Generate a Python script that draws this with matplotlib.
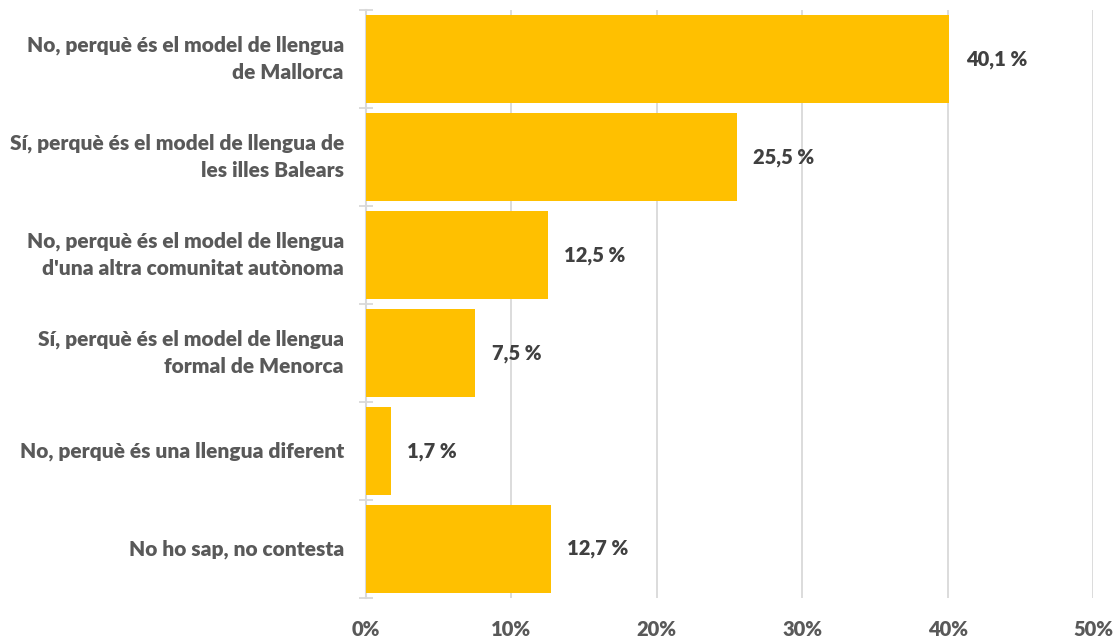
import matplotlib
matplotlib.use("Agg")
import matplotlib.pyplot as plt
import numpy as np

# respostes i percentatges
categories = [
    "No, perquè és el model de llengua\nde Mallorca",
    "Sí, perquè és el model de llengua de\nles illes Balears",
    "No, perquè és el model de llengua\nd'una altra comunitat autònoma",
    "Sí, perquè és el model de llengua\nformal de Menorca",
    "No, perquè és una llengua diferent",
    "No ho sap, no contesta",
]
values = [40.1, 25.5, 12.5, 7.5, 1.7, 12.7]
xticks = [0, 10, 20, 30, 40, 50]
xtick_labels = ["0%", "10%", "20%", "30%", "40%", "50%"]

plt.rcParams['font.family'] = ['Lato', 'DejaVu Sans']

fig = plt.figure(figsize=(11.18, 6.38), dpi=100)
ax = fig.add_axes([0.3274, 0.0627, 0.6503, 0.9216])

y = np.arange(len(categories))
ax.barh(y, values, height=0.9, color='#FFC000', zorder=3)

# etiquetes de valor al final de cada barra
for yi, v in zip(y, values):
    txt = f"{v:.1f}".replace('.', ',') + " %"
    ax.annotate(txt, xy=(v, yi), xytext=(12, 0), textcoords='offset points',
                ha='left', va='center', fontsize=14.5, fontweight='heavy', color='#404040')

ax.set_xlim(0, 50)
ax.set_ylim(len(categories) - 0.5, -0.5)

ax.set_xticks(xticks)
ax.set_xticklabels(xtick_labels, fontsize=14.5, fontweight='heavy', color='#595959')
ax.tick_params(axis='x', length=0, pad=16)
ax.xaxis.grid(True, color='#d9d9d9', linewidth=1.3, zorder=0)

ax.set_yticks(y)
ax.set_yticklabels(categories, fontsize=15, fontweight='heavy', color='#595959',
                   ha='right', va='center', linespacing=1.5)
ax.tick_params(axis='y', which='major', direction='in', length=4, width=1.3,
               color='#d9d9d9', pad=16)
ax.set_yticks(np.arange(-0.5, len(categories)), minor=True)
ax.tick_params(axis='y', which='minor', direction='inout', length=10, width=1.3,
               color='#d9d9d9')

for side in ['top', 'right', 'bottom']:
    ax.spines[side].set_visible(False)
ax.spines['left'].set_color('#d9d9d9')
ax.spines['left'].set_linewidth(1.5)
ax.set_axisbelow(True)

fig.savefig("out.png", dpi=100)
